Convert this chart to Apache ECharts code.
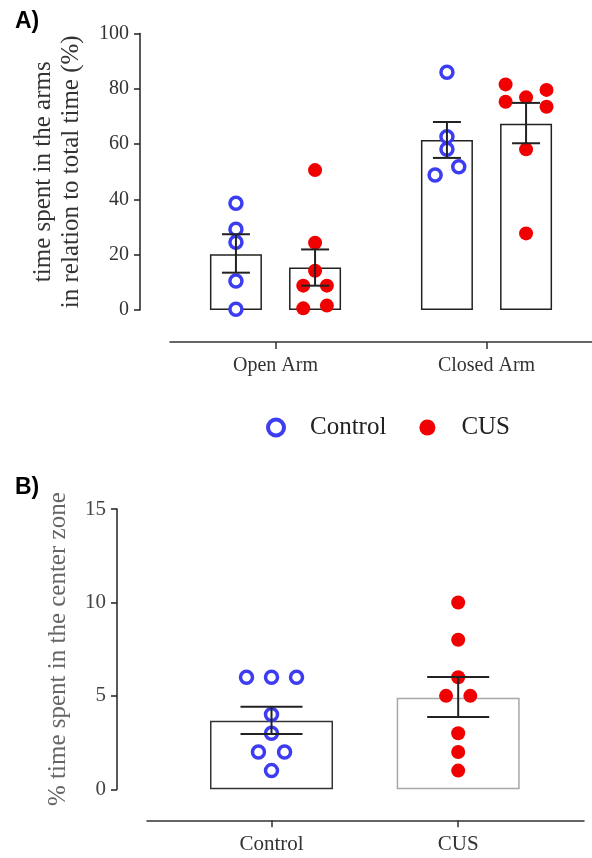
<!DOCTYPE html>
<html>
<head>
<meta charset="utf-8">
<script src="https://cdn.jsdelivr.net/npm/echarts@6/dist/echarts.min.js"></script>
<style>
  html, body { margin: 0; padding: 0; background: #fff; }
  #main { width: 592px; height: 858px; }
</style>
</head>
<body>
<div id="main"></div>
<script>
var dom = document.getElementById('main');
var myChart = echarts.init(dom);

// panel A: time in arms
var armCats = ['Open Arm', 'Closed Arm'];
var armPos = [1, 2];
var armShift = 0.1875;
var armMeanControl = [20.2, 61.5];
var armMeanCUS = [15.4, 67.4];
var armErrControl = [[13.5, 27.4], [55.0, 68.0]];
var armErrCUS = [[8.8, 21.9], [60.3, 74.9]];
var armPtsControl = [[38.6, 29.2, 24.5, 10.5, 0.3], [86.0, 62.7, 58.1, 48.8, 51.8]];
var armJitControl = [[0, 0, 0, 0, 0], [0, 0, 0, -0.056, 0.056]];
var armPtsCUS = [[50.6, 24.3, 14.2, 8.8, 8.8, 0.6, 1.6], [81.6, 79.6, 75.3, 76.9, 73.5, 58.1, 27.7]];
var armJitCUS = [[0, 0, 0, -0.056, 0.056, -0.056, 0.056], [-0.097, 0.097, -0.097, 0, 0.097, 0, 0]];

// panel B: center zone
var zoneCats = ['Control', 'CUS'];
var zonePos = [1, 2];
var zoneMean = [3.67, 4.90];
var zoneErr = [[2.96, 4.42], [3.87, 6.01]];
var zonePtsControl = [6, 6, 6, 4, 3, 2, 2, 1];
var zoneJitControl = [-0.134, 0, 0.134, 0, 0, -0.07, 0.07, 0];
var zonePtsCUS = [10, 8, 6, 5, 5, 3, 2, 1];
var zoneJitCUS = [0, 0, 0, -0.065, 0.065, 0, 0, 0];

var BLUE = '#3c3cf2';
var RED = '#f00000';
var serif = 'Liberation Serif';

function points(pos, shift, pts, jit) {
	var out = [];
	for (var g = 0; g < pts.length; g++) {
		for (var i = 0; i < pts[g].length; i++) {
			out.push([pos[g] + shift + jit[g][i], pts[g][i]]);
		}
	}
	return out;
}

function errorBar(capHalf) {
	return function (params, api) {
		var x = api.value(0);
		var lo = api.coord([x, api.value(1)]);
		var hi = api.coord([x, api.value(2)]);
		var st = { stroke: '#222', lineWidth: 2 };
		return {
			type: 'group',
			children: [
				{ type: 'line', shape: { x1: lo[0], y1: lo[1], x2: hi[0], y2: hi[1] }, style: st },
				{ type: 'line', shape: { x1: lo[0] - capHalf, y1: lo[1], x2: lo[0] + capHalf, y2: lo[1] }, style: st },
				{ type: 'line', shape: { x1: hi[0] - capHalf, y1: hi[1], x2: hi[0] + capHalf, y2: hi[1] }, style: st }
			]
		};
	};
}

var armBars = [], armErr = [];
for (var g = 0; g < armPos.length; g++) {
	armBars.push([armPos[g] - armShift, armMeanControl[g]]);
	armBars.push([armPos[g] + armShift, armMeanCUS[g]]);
	armErr.push([armPos[g] - armShift, armErrControl[g][0], armErrControl[g][1]]);
	armErr.push([armPos[g] + armShift, armErrCUS[g][0], armErrCUS[g][1]]);
}

var zoneBars = [
	{ value: [zonePos[0], zoneMean[0]], itemStyle: { borderColor: '#333' } },
	{ value: [zonePos[1], zoneMean[1]], itemStyle: { borderColor: '#a8a8a8' } }
];
var zoneErrData = [
	[zonePos[0], zoneErr[0][0], zoneErr[0][1]],
	[zonePos[1], zoneErr[1][0], zoneErr[1][1]]
];
var zoneCtl = [], zoneCus = [];
for (var i = 0; i < zonePtsControl.length; i++) zoneCtl.push([zonePos[0] + zoneJitControl[i], zonePtsControl[i]]);
for (var i = 0; i < zonePtsCUS.length; i++) zoneCus.push([zonePos[1] + zoneJitCUS[i], zonePtsCUS[i]]);

var ctlStyle = { color: '#fff', borderColor: BLUE, borderWidth: 3.5, opacity: 1 };
var cusStyle = { color: RED, opacity: 1 };

option = {
	animation: false,
	backgroundColor: '#fff',
	textStyle: { fontFamily: serif },
	graphic: [
		{ type: 'text', left: 15, top: 10, style: { text: 'A)', font: 'bold 23px "Liberation Sans"', fill: '#000' } },
		{ type: 'text', left: 15, top: 476, style: { text: 'B)', font: 'bold 23px "Liberation Sans"', fill: '#000' } }
	],
	legend: {
		left: 261,
		top: 410,
		itemWidth: 16,
		itemHeight: 16,
		itemGap: 33,
		data: [
			{ name: 'Control', icon: 'circle', itemStyle: { color: '#fff', borderColor: BLUE, borderWidth: 4, opacity: 1 } },
			{ name: 'CUS', icon: 'circle', itemStyle: { color: RED, borderWidth: 0, opacity: 1 } }
		],
		textStyle: { fontFamily: serif, fontSize: 25, color: '#222', padding: [0, 0, 0, 21] }
	},
	grid: [
		{ left: 170, width: 432, top: 33.5, height: 276.5 },
		{ left: 147, right: 8, top: 509, height: 280.3 }
	],
	xAxis: [
		{
			type: 'value', gridIndex: 0, min: 0.5, max: 2.5, offset: 32,
			axisLine: { onZero: false, lineStyle: { color: '#333', width: 1.5 } },
			axisTick: { show: true, customValues: armPos, length: 7, lineStyle: { color: '#333', width: 1.5 } },
			axisLabel: {
				customValues: armPos, margin: 14, fontFamily: serif, fontSize: 20, color: '#333',
				formatter: function (v) { return armCats[Math.round(v) - 1]; }
			},
			splitLine: { show: false }
		},
		{
			type: 'value', gridIndex: 1, min: 0.333, max: 2.674, offset: 31,
			axisLine: { onZero: false, lineStyle: { color: '#333', width: 1.5 } },
			axisTick: { show: true, customValues: zonePos, length: 7, lineStyle: { color: '#333', width: 1.5 } },
			axisLabel: {
				customValues: zonePos, margin: 14, fontFamily: serif, fontSize: 21, color: '#333',
				formatter: function (v) { return zoneCats[Math.round(v) - 1]; }
			},
			splitLine: { show: false }
		}
	],
	yAxis: [
		{
			type: 'value', gridIndex: 0, min: 0, max: 100, interval: 20, offset: 30,
			name: 'time spent in the arms\nin relation to total time (%)',
			nameLocation: 'middle', nameGap: 55,
			nameTextStyle: { fontFamily: serif, fontSize: 25, color: '#333', lineHeight: 28 },
			axisLine: { show: true, onZero: false, lineStyle: { color: '#222', width: 1.5 } },
			axisTick: { show: true, length: 6, lineStyle: { color: '#222', width: 1.5 } },
			axisLabel: { margin: 11, fontFamily: serif, fontSize: 20, color: '#333' },
			splitLine: { show: false }
		},
		{
			type: 'value', gridIndex: 1, min: 0, max: 15, interval: 5, offset: 30,
			name: '% time spent in the center zone',
			nameLocation: 'middle', nameGap: 46,
			nameTextStyle: { fontFamily: serif, fontSize: 25, color: '#666' },
			axisLine: { show: true, onZero: false, lineStyle: { color: '#222', width: 1.5 } },
			axisTick: { show: true, length: 6, lineStyle: { color: '#222', width: 1.5 } },
			axisLabel: { margin: 11, fontFamily: serif, fontSize: 21, color: '#444' },
			splitLine: { show: false }
		}
	],
	series: [
		{
			type: 'bar', xAxisIndex: 0, yAxisIndex: 0, barWidth: 52, z: 1,
			itemStyle: { color: '#fff', borderColor: '#222', borderWidth: 1.5 },
			data: armBars
		},
		{
			name: 'Control', type: 'scatter', xAxisIndex: 0, yAxisIndex: 0, z: 2,
			symbolSize: 12, itemStyle: ctlStyle,
			data: points(armPos, -armShift, armPtsControl, armJitControl)
		},
		{
			name: 'CUS', type: 'scatter', xAxisIndex: 0, yAxisIndex: 0, z: 2,
			symbolSize: 14, itemStyle: cusStyle,
			data: points(armPos, armShift, armPtsCUS, armJitCUS)
		},
		{
			type: 'custom', xAxisIndex: 0, yAxisIndex: 0, z: 3,
			renderItem: errorBar(14), data: armErr
		},
		{
			type: 'bar', xAxisIndex: 1, yAxisIndex: 1, barWidth: 123, z: 1,
			itemStyle: { color: '#fff', borderColor: '#333', borderWidth: 1.5 },
			data: zoneBars
		},
		{
			name: 'Control', type: 'scatter', xAxisIndex: 1, yAxisIndex: 1, z: 2,
			symbolSize: 12, itemStyle: ctlStyle, data: zoneCtl
		},
		{
			name: 'CUS', type: 'scatter', xAxisIndex: 1, yAxisIndex: 1, z: 2,
			symbolSize: 14, itemStyle: cusStyle, data: zoneCus
		},
		{
			type: 'custom', xAxisIndex: 1, yAxisIndex: 1, z: 3,
			renderItem: errorBar(31), data: zoneErrData
		}
	]
};
if (option && typeof option === "object") {
	myChart.setOption(option, true);
}
</script>
</body>
</html>
